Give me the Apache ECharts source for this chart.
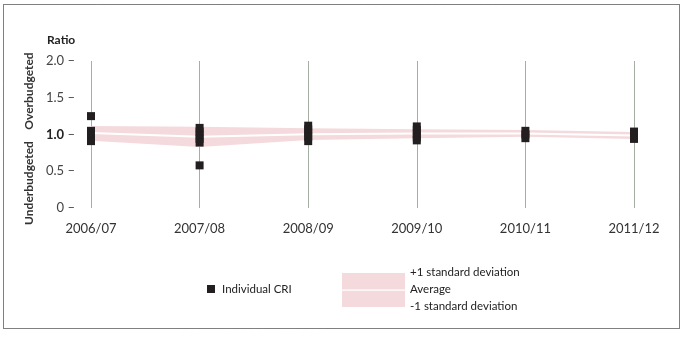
<!DOCTYPE html>
<html><head><meta charset="utf-8">
<script src="https://cdn.jsdelivr.net/npm/echarts@6/dist/echarts.min.js"></script>
<style>html,body{margin:0;padding:0;background:#fff}#c{width:683px;height:337px}</style>
</head><body><div id="c"></div>
<script>
var categories = ['2006/07','2007/08','2008/09','2009/10','2010/11','2011/12'];
var plusOneSD = [1.115, 1.105, 1.085, 1.07, 1.06, 1.035];
var average   = [1.02, 0.97, 1.005, 1.015, 1.015, 0.985];
var minusOneSD= [0.915, 0.83, 0.925, 0.95, 0.97, 0.94];
var individualCRI = [
  [1.25, 1.05, 1.01, 0.97, 0.93, 0.91],
  [1.09, 1.04, 0.99, 0.94, 0.89, 0.58],
  [1.12, 1.07, 1.02, 0.97, 0.91],
  [1.11, 1.06, 1.01, 0.96, 0.92],
  [1.05, 1.00, 0.95],
  [1.04, 0.99, 0.94]
];
var yTicks = [0, 0.5, 1.0, 1.5, 2.0];

var FONT = 'Lato';
var pink = '#f4dadd';
var criPoints = [];
individualCRI.forEach(function(vals, i){ vals.forEach(function(v){ criPoints.push([i, v]); }); });
var lowerBand = average.map(function(a, i){ return +(a - minusOneSD[i]).toFixed(4); });
var upperBand = plusOneSD.map(function(p, i){ return +(p - average[i]).toFixed(4); });

var chart = echarts.init(document.getElementById('c'));
chart.setOption({
  animation: false,
  grid: {left: 91, right: 49, top: 61, bottom: 129},
  xAxis: {
    type: 'category', data: categories, boundaryGap: false,
    axisLine: {show: false}, axisTick: {show: false},
    axisLabel: {margin: 14, fontFamily: FONT, fontSize: 13, color: '#333'},
    splitLine: {show: true, lineStyle: {color: '#a3afa3', width: 1}}
  },
  yAxis: {
    type: 'value', min: 0, max: 2, interval: 0.5,
    axisLine: {show: false}, axisTick: {show: false}, splitLine: {show: false},
    axisLabel: {
      margin: 16, fontFamily: FONT, fontSize: 13, color: '#444',
      formatter: function(v){
        if (v === 0) return '0 \u2013';
        var s = v.toFixed(1);
        if (v === 1) return '{b|' + s + '} \u2013';
        return s + ' \u2013';
      },
      rich: {b: {fontWeight: 'bold', fontFamily: FONT, fontSize: 13, color: '#222'}}
    }
  },
  series: [
    {name: 'base', type: 'line', stack: 'band', data: minusOneSD, symbol: 'none',
     lineStyle: {opacity: 0}, silent: true, z: 1},
    {name: 'lower', type: 'line', stack: 'band', data: lowerBand, symbol: 'none',
     lineStyle: {opacity: 0}, areaStyle: {color: pink, opacity: 1}, silent: true, z: 1},
    {name: 'upper', type: 'line', stack: 'band', data: upperBand, symbol: 'none',
     lineStyle: {opacity: 0}, areaStyle: {color: pink, opacity: 1}, silent: true, z: 1},
    {name: 'Average', type: 'line', data: average, symbol: 'none',
     lineStyle: {color: '#ffffff', width: 2}, silent: true, z: 2},
    {name: 'Individual CRI', type: 'scatter', data: criPoints, symbol: 'rect',
     symbolSize: [8, 8], itemStyle: {color: '#231f20', opacity: 1}, z: 5}
  ],
  graphic: [
    {type: 'rect', shape: {x: 3.5, y: 4.5, width: 676, height: 324},
     style: {fill: null, stroke: '#000', lineWidth: 1, lineDash: [1, 1]}, silent: true},
    {type: 'text', left: 47, top: 34, style: {text: 'Ratio', fontFamily: FONT, fontSize: 12, fontWeight: 'bold', fill: '#222'}},
    {type: 'text', x: 29, y: 91, rotation: Math.PI/2,
     style: {text: 'Overbudgeted', fontFamily: FONT, fontSize: 12, fontWeight: 'bold', fill: '#333', align: 'center', verticalAlign: 'middle'}},
    {type: 'text', x: 29, y: 183, rotation: Math.PI/2,
     style: {text: 'Underbudgeted', fontFamily: FONT, fontSize: 12, fontWeight: 'bold', fill: '#333', align: 'center', verticalAlign: 'middle'}},
    {type: 'rect', shape: {x: 207, y: 285, width: 8, height: 8}, style: {fill: '#231f20'}},
    {type: 'text', x: 222, y: 289, style: {text: 'Individual CRI', fontFamily: FONT, fontSize: 11.5, fill: '#222', verticalAlign: 'middle'}},
    {type: 'rect', shape: {x: 342, y: 273, width: 63, height: 34}, style: {fill: pink}},
    {type: 'rect', shape: {x: 342, y: 289.5, width: 63, height: 1.2}, style: {fill: '#ffffff'}},
    {type: 'text', x: 410, y: 272, style: {text: '+1 standard deviation', fontFamily: FONT, fontSize: 11.5, fill: '#222', verticalAlign: 'middle'}},
    {type: 'text', x: 410, y: 289, style: {text: 'Average', fontFamily: FONT, fontSize: 11.5, fill: '#222', verticalAlign: 'middle'}},
    {type: 'text', x: 410, y: 306, style: {text: '-1 standard deviation', fontFamily: FONT, fontSize: 11.5, fill: '#222', verticalAlign: 'middle'}}
  ]
});
</script></body></html>
